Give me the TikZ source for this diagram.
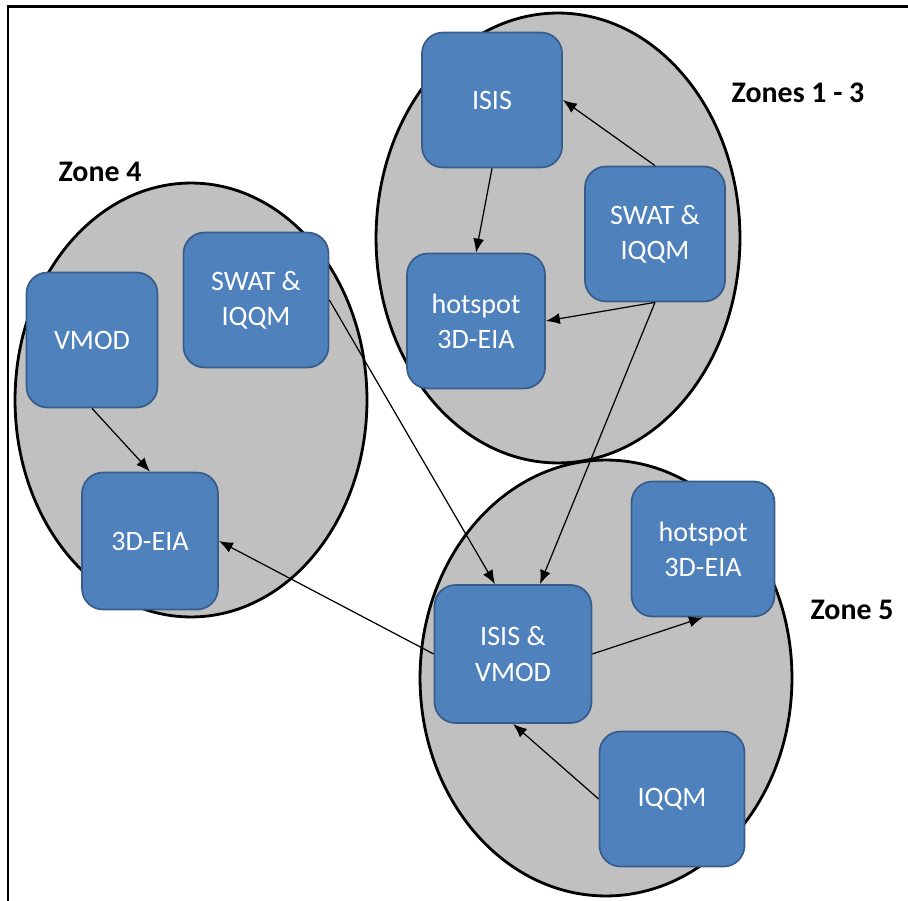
\documentclass[tikz,border=0pt]{standalone}
\usepackage{fontspec}
\setmainfont{Carlito}
\usepackage{xcolor}
\usetikzlibrary{arrows.meta}

\definecolor{zonegray}{RGB}{192,192,192}
\definecolor{boxblue}{RGB}{79,129,189}
\definecolor{boxline}{RGB}{56,93,138}

\begin{document}
\begin{tikzpicture}[x=0.02cm,y=-0.02cm,
	zone/.style={draw=black,line width=1.6pt,fill=zonegray},
	model/.style={draw=boxline,line width=1pt,fill=boxblue,rounded corners=0.42cm,
		minimum width=2.8cm,minimum height=2.7cm,align=center,text=white,
		font=\fontsize{16}{20}\selectfont},
	zonelabel/.style={font=\fontsize{17}{20}\selectfont\bfseries},
	link/.style={-{Latex[length=0.28cm,width=0.22cm]},line width=0.7pt}]
	\useasboundingbox (0,0) rectangle (908,901);
	\draw[line width=1.7pt] (8,901) -- (8,7) -- (908,7);
	% zones
	\draw[zone] (558,238) ellipse [x radius=3.64cm,y radius=4.5cm];
	\draw[zone] (191,400) ellipse [x radius=3.52cm,y radius=4.34cm];
	\draw[zone] (606,678) ellipse [x radius=3.72cm,y radius=4.36cm];
	\node[zonelabel] (z13) at (798,93) {Zones 1 - 3};
	\node[zonelabel] (z4) at (100,172) {Zone 4};
	\node[zonelabel] (z5) at (852,610) {Zone 5};
	% zones 1 - 3
	\node[model] (isis) at (492,100) {ISIS};
	\node[model] (swat) at (655,234) {SWAT \&\\IQQM};
	\node[model,minimum width=2.76cm] (hot) at (476,321) {hotspot\\3D-EIA};
	% zone 4
	\node[model,minimum width=2.62cm] (vmod) at (92,340) {VMOD};
	\node[model,minimum width=2.9cm] (swatb) at (256,300) {SWAT \&\\IQQM};
	\node[model,minimum width=2.72cm,minimum height=2.74cm] (eia) at (150,541) {3D-EIA};
	% zone 5
	\node[model,minimum width=3.14cm,minimum height=2.76cm] (isisvmod) at (513,654) {ISIS \&\\VMOD};
	\node[model,minimum width=2.86cm] (hotb) at (703,549) {hotspot\\3D-EIA};
	\node[model,minimum width=2.9cm] (iqqm) at (672,799) {IQQM};
	% links
	\draw[link] (isis.south) -- (hot.north);
	\draw[link] (swat.north) -- (isis.east);
	\draw[link] (swat.south) -- (hot.east);
	\draw[link] (swat.south) -- ([xshift=0.54cm]isisvmod.north);
	\draw[link] (swatb.east) -- ([xshift=-0.36cm]isisvmod.north);
	\draw[link] (vmod.south) -- (eia.north);
	\draw[link] (isisvmod.west) -- (eia.east);
	\draw[link] (isisvmod.east) -- (hotb.south);
	\draw[link] (iqqm.west) -- (isisvmod.south);
\end{tikzpicture}
\end{document}
